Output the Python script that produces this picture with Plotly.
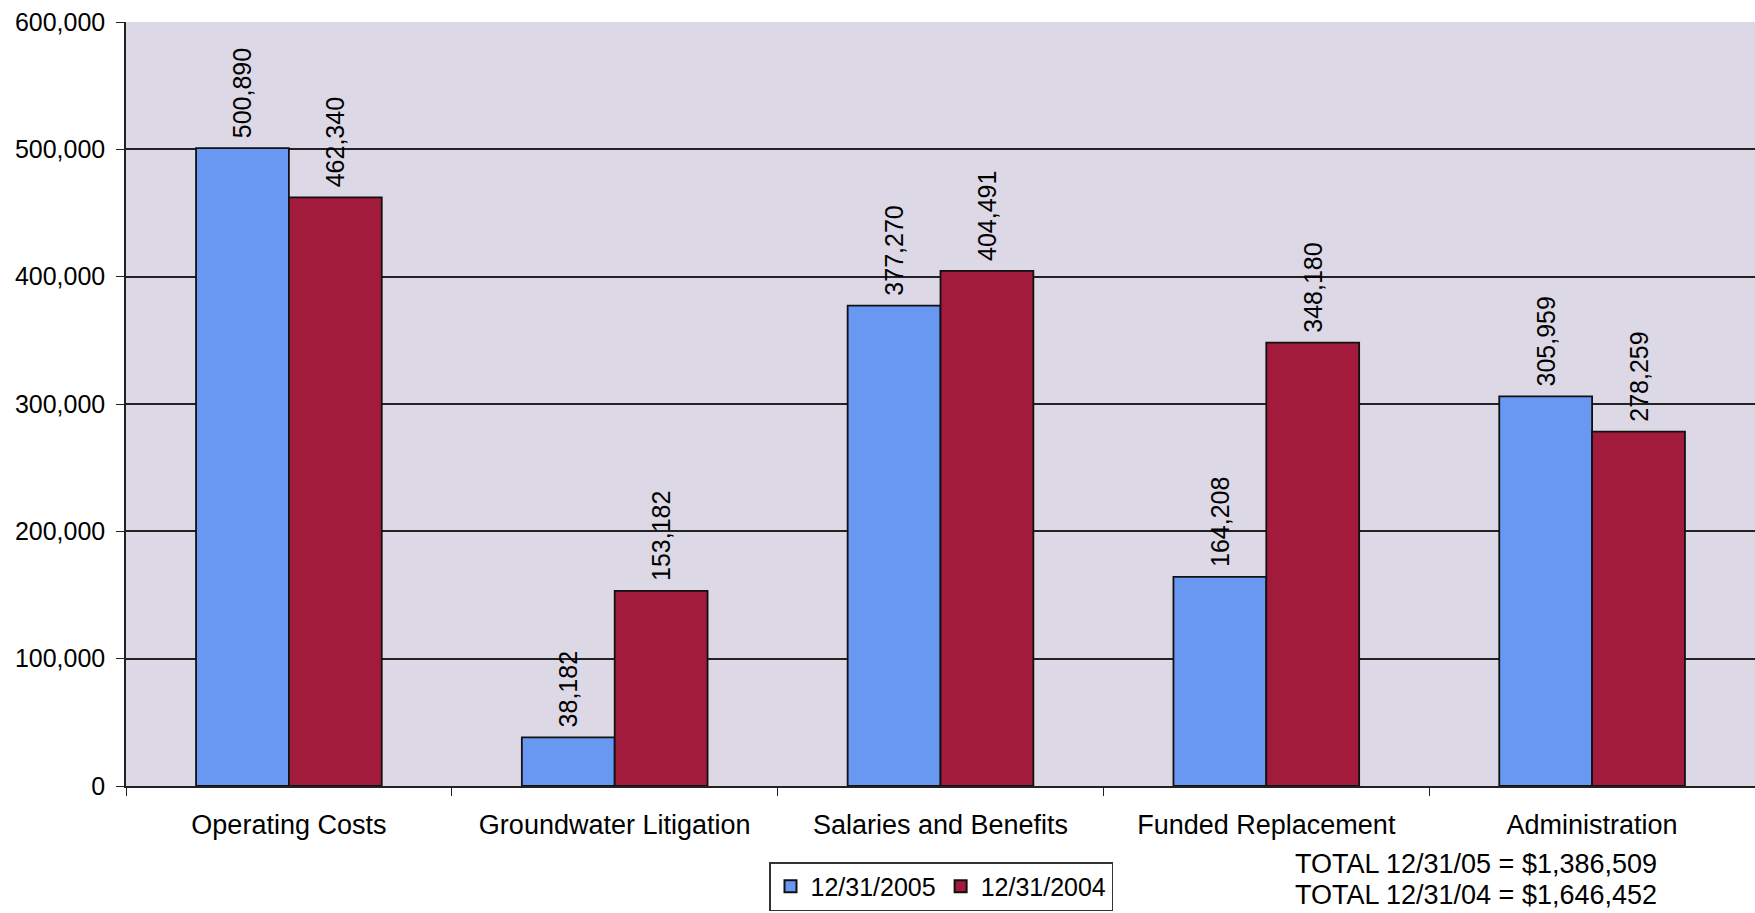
import plotly.graph_objects as go

categories = ["Operating Costs", "Groundwater Litigation", "Salaries and Benefits",
              "Funded Replacement", "Administration"]
values_2005 = [500890, 38182, 377270, 164208, 305959]
values_2004 = [462340, 153182, 404491, 348180, 278259]
series_names = ["12/31/2005", "12/31/2004"]
y_ticks = [0, 100000, 200000, 300000, 400000, 500000, 600000]

FONT = "Liberation Sans, Arial, sans-serif"
W, H = 1755, 913
ML, MR, MT, MB = 126, 0, 22, 127
PW = W - ML - MR
PH = H - MT - MB

def px_x(x):
    return (x - ML) / PW

def px_y(y):
    return -(y - (H - MB)) / PH

fig = go.Figure()
for name, vals, color in [(series_names[0], values_2005, "#6898F2"),
                          (series_names[1], values_2004, "#A21A3C")]:
    fig.add_trace(go.Bar(
        name=name, x=categories, y=vals,
        marker=dict(color=color, line=dict(color="#111111", width=1.8)),
        text=["\u00a0" + f"{v:,}" for v in vals],
        textposition="outside", textangle=-90, constraintext="none",
        textfont=dict(family=FONT, size=25, color="black"),
        cliponaxis=False,
    ))

total05 = sum(values_2005)
total04 = sum(values_2004)

fig.update_layout(
    width=W, height=H,
    margin=dict(l=ML, r=MR, t=MT, b=MB),
    paper_bgcolor="white",
    plot_bgcolor="#DCD8E5",
    barmode="group",
    bargap=0.43,
    bargroupgap=0,
    font=dict(family=FONT, color="black"),
    xaxis=dict(
        tickfont=dict(size=27, family=FONT, color="black"),
        showline=True, linecolor="#222222", linewidth=1.5,
        ticks="outside", tickson="boundaries", ticklen=8, tickcolor="#222222",
        ticklabelstandoff=14,
        showgrid=False,
    ),
    yaxis=dict(
        range=[0, 600000], tickvals=y_ticks, tickformat=",",
        tickfont=dict(size=25, family=FONT, color="black"),
        showline=True, linecolor="#222222", linewidth=1.5,
        ticks="outside", ticklen=8, tickcolor="#222222",
        ticklabelstandoff=6,
        showgrid=True, gridcolor="#222222", gridwidth=1.6,
        zeroline=False,
    ),
    legend=dict(
        orientation="h", x=px_x(769), y=px_y(911),
        xanchor="left", yanchor="bottom",
        bordercolor="#333333", borderwidth=1.5,
        font=dict(size=25, family=FONT, color="black"),
        bgcolor="white", traceorder="normal",
        itemsizing="constant",
    ),
    showlegend=True,
)

fig.add_annotation(xref="paper", yref="paper", x=px_x(1293), y=px_y(864),
                   xanchor="left", yanchor="middle", showarrow=False,
                   text=f"TOTAL 12/31/05 = ${total05:,}",
                   font=dict(size=27, family=FONT, color="black"))
fig.add_annotation(xref="paper", yref="paper", x=px_x(1293), y=px_y(895),
                   xanchor="left", yanchor="middle", showarrow=False,
                   text=f"TOTAL 12/31/04 = ${total04:,}",
                   font=dict(size=27, family=FONT, color="black"))

fig.write_html("out.html")
